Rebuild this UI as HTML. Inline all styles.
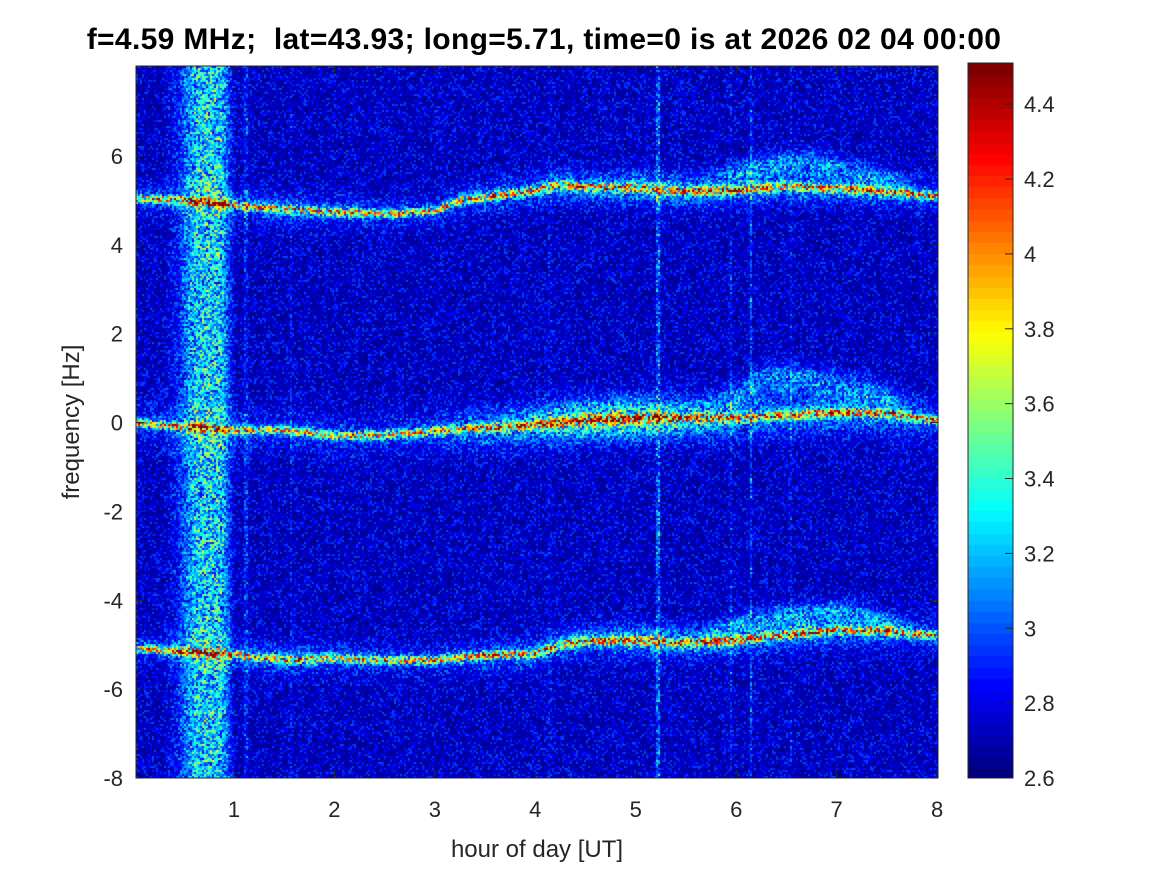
<!DOCTYPE html>
<html><head><meta charset="utf-8"><style>
body{margin:0;background:#fff;width:1167px;height:875px;position:relative;overflow:hidden;font-family:"Liberation Sans",sans-serif;}
.t{position:absolute;font-size:22px;color:#262626;white-space:nowrap;}
</style></head><body>
<div class="t" style="left:0;width:1088px;text-align:center;top:23px;font-weight:bold;color:#000;font-size:30px;letter-spacing:0.35px;">f=4.59 MHz;&nbsp; lat=43.93; long=5.71, time=0 is at 2026 02 04 00:00</div>
<canvas id="hm" width="802" height="712" style="position:absolute;left:136px;top:66px;"></canvas>
<canvas id="cb" width="45" height="715" style="position:absolute;left:968px;top:63px;"></canvas>
<svg id="ax" width="1167" height="875" style="position:absolute;left:0;top:0;"></svg>
<div class="t" style="left:337px;width:400px;text-align:center;top:836px;font-size:24px;">hour of day [UT]</div>
<div class="t" style="left:-28px;width:200px;text-align:center;top:408px;font-size:24px;transform:rotate(-90deg);">frequency [Hz]</div>
<script>
const trackHours=[0,0.5,1,1.5,2,2.5,3,3.25,3.5,4,4.25,4.5,5,5.5,6,6.5,7,7.5,8];
const upperFreq=[5.05,5.0,4.9,4.8,4.74,4.7,4.75,5.0,5.07,5.23,5.35,5.3,5.28,5.2,5.23,5.32,5.27,5.2,5.1];
const midFreq=[0.0,-0.1,-0.17,-0.17,-0.3,-0.28,-0.2,-0.15,-0.12,-0.05,0.0,0.05,0.1,0.1,0.1,0.17,0.23,0.2,0.05];
const lowerFreq=[-5.08,-5.15,-5.23,-5.35,-5.3,-5.35,-5.35,-5.3,-5.25,-5.2,-5.0,-4.9,-4.9,-4.95,-4.9,-4.78,-4.67,-4.7,-4.8];
const midHalo=[0.12,0.12,0.12,0.12,0.12,0.12,0.15,0.2,0.25,0.35,0.45,0.5,0.55,0.4,0.25,0.25,0.25,0.25,0.15];
const sideHalo=[0.12,0.12,0.15,0.2,0.15,0.12,0.12,0.15,0.18,0.22,0.25,0.25,0.3,0.3,0.25,0.25,0.25,0.2,0.15];
const secHours=[5.6,6.0,6.3,6.7,7.1,7.5,7.8];
const secUpper=[5.5,5.6,5.8,5.9,5.7,5.5,5.3];
const secMid=[0.3,0.6,1.0,1.0,0.8,0.6,0.2];
const secLower=[-4.8,-4.6,-4.4,-4.3,-4.2,-4.5,-4.7];
const secAmp=[0,0.2,0.25,0.25,0.22,0.18,0];
const bandHours=[0.3,0.45,0.55,0.62,0.75,0.88,0.95,1.02];
const bandAmp=[0,0.08,0.2,0.28,0.3,0.28,0.12,0];
const lineHours=[1.12,1.57,4.15,5.22,5.95,6.15,6.55];
const lineAmp=[0.12,0.08,0.05,0.25,0.12,0.18,0.1];
const cbTicks=[2.6,2.8,3,3.2,3.4,3.6,3.8,4,4.2,4.4];
const xTicks=[1,2,3,4,5,6,7,8];
const yTicks=[6,4,2,0,-2,-4,-6,-8];
const vmin=2.6,vmax=4.51;
const xs=h=>133.5+100.45*h, ys=f=>422.6-44.43*f;
const hx=x=>(x-133.5)/100.45, fy=y=>(422.6-y)/44.43;
function interp(xa,ya,x){if(x<=xa[0])return ya[0];for(let i=1;i<xa.length;i++)if(x<=xa[i]){const t=(x-xa[i-1])/(xa[i]-xa[i-1]);return ya[i-1]+t*(ya[i]-ya[i-1]);}return ya[ya.length-1];}
function jet(t){t=Math.max(0,Math.min(1,t));const c=v=>Math.round(255*Math.max(0,Math.min(1,v)));return [c(1.5-Math.abs(4*t-3)),c(1.5-Math.abs(4*t-2)),c(1.5-Math.abs(4*t-1))];}
function hash(i,j,k){let h=(i*374761393+j*668265263+k*2147483647)|0;h=(h^(h>>>13))*1274126177|0;h=h^(h>>>16);return ((h>>>0)%100000)/100000;}
const hm=document.getElementById('hm'),ctx=hm.getContext('2d');
const img=ctx.createImageData(802,712);
const C=2;
for(let ci=0;ci<401;ci++){const h=hx(136+ci*C+1);
 const uf=interp(trackHours,upperFreq,h),mf=interp(trackHours,midFreq,h),lf=interp(trackHours,lowerFreq,h);
 const mh=interp(trackHours,midHalo,h),sh=interp(trackHours,sideHalo,h);
 const sa=(h>=secHours[0]&&h<=secHours[secHours.length-1])?interp(secHours,secAmp,h):0;
 const su=interp(secHours,secUpper,h),sm=interp(secHours,secMid,h),sl=interp(secHours,secLower,h);
 const band=(h>=bandHours[0]&&h<=bandHours[bandHours.length-1])?interp(bandHours,bandAmp,h):0;
 let ln=0;for(let k=0;k<lineHours.length;k++){if(Math.abs(xs(lineHours[k])-(136+ci*C+1))<1.5)ln=lineAmp[k];}
 for(let cj=0;cj<356;cj++){const f=fy(66+cj*C+1);
  const n1=hash(ci,cj,1),n2=hash(ci,cj,2),n3=hash(ci,cj,3);
  let t=0.01+0.19*Math.pow(n1,2);
  const g=(d,w)=>Math.exp(-(d/w)*(d/w));
  let s=0.65*(g(f-uf,0.09)+g(f-mf,0.09)+g(f-lf,0.09));
  s+=sh*(g(f-uf,0.35)+g(f-lf,0.35))+mh*g(f-mf,0.45);
  s+=sa*(g(f-su,0.25)+g(f-sm,0.3)+g(f-sl,0.25));
  s+=band*1.3+ln*(0.3+n3);
  t+=s*(0.2+1.0*n2);
  const [r,gg,b]=jet(t);
  for(let a=0;a<C;a++)for(let bb=0;bb<C;bb++){const p=((cj*C+bb)*802+ci*C+a)*4;img.data[p]=r;img.data[p+1]=gg;img.data[p+2]=b;img.data[p+3]=255;}
 }}
ctx.putImageData(img,0,0);
const cb=document.getElementById('cb'),cx=cb.getContext('2d');
for(let k=0;k<64;k++){const [r,g,b]=jet(k/63);cx.fillStyle=`rgb(${r},${g},${b})`;const y0=715-(k+1)*715/64;cx.fillRect(0,Math.floor(y0),45,Math.ceil(715/64)+1);}
const svg=document.getElementById('ax'),NS='http://www.w3.org/2000/svg';
function el(tag,attrs,txt){const e=document.createElementNS(NS,tag);for(const k in attrs)e.setAttribute(k,attrs[k]);if(txt!==undefined)e.textContent=txt;svg.appendChild(e);return e;}
let e=el('rect',{x:136,y:66,width:802,height:712,fill:'none',stroke:'#262626','stroke-width':1});

e=el('rect',{x:968,y:63,width:45,height:715,fill:'none',stroke:'#262626','stroke-width':1});

xTicks.forEach(v=>{const x=xs(v);el('line',{x1:x,x2:x,y1:778,y2:770,stroke:'#262626'});el('line',{x1:x,x2:x,y1:66,y2:74,stroke:'#262626'});
 e=el('text',{x:x,y:817,'text-anchor':'middle','font-size':22,fill:'#262626','font-family':'Liberation Sans'},String(v));
 });
yTicks.forEach(v=>{const y=ys(v);el('line',{x1:136,x2:144,y1:y,y2:y,stroke:'#262626'});el('line',{x1:938,x2:930,y1:y,y2:y,stroke:'#262626'});
 e=el('text',{x:123,y:y+8,'text-anchor':'end','font-size':22,fill:'#262626','font-family':'Liberation Sans'},String(v));
 });
cbTicks.forEach(v=>{const y=63+715*(vmax-v)/(vmax-vmin);el('line',{x1:1013,x2:1005,y1:y,y2:y,stroke:'#262626'});
 e=el('text',{x:1024,y:y+8,'font-size':22,fill:'#262626','font-family':'Liberation Sans'},String(v));
 });
</script>
</body></html>
